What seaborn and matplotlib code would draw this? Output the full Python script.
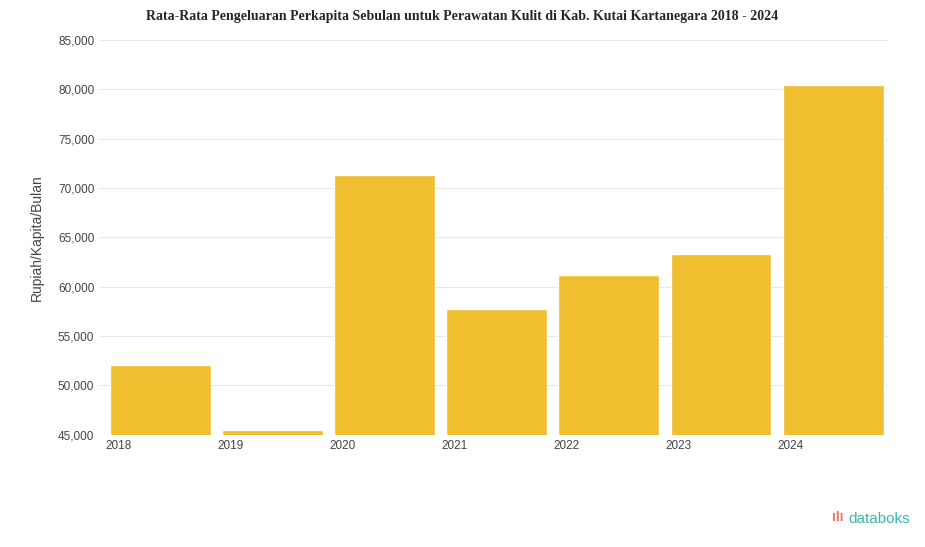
import pandas as pd
import seaborn as sns
import matplotlib.pyplot as plt
from matplotlib.ticker import FuncFormatter

# data
tahun = ['2018', '2019', '2020', '2021', '2022', '2023', '2024']
pengeluaran = [52100, 45500, 71300, 57750, 61200, 63300, 80400]
y_ticks = [45000, 50000, 55000, 60000, 65000, 70000, 75000, 80000, 85000]

df = pd.DataFrame({'Tahun': tahun, 'Pengeluaran': pengeluaran})

sns.set_style('white')
plt.rcParams['font.family'] = ['Liberation Sans', 'DejaVu Sans']

fig = plt.figure(figsize=(9.25, 5.47), dpi=100)
ax = fig.add_axes([0.108, 0.205, 0.852, 0.722])

sns.barplot(data=df, x='Tahun', y='Pengeluaran', color='#EFBF2F',
            saturation=1, width=0.9, ax=ax)

ax.set_ylim(45000, 85000)
ax.set_xlim(-0.54, 6.49)
ax.set_yticks(y_ticks)
ax.yaxis.set_major_formatter(FuncFormatter(lambda v, p: f'{int(v):,}'))
ax.grid(axis='y', color='#E6E6E6', lw=0.8)
ax.set_axisbelow(True)

ax.set_xticks([i - 0.375 for i in range(len(tahun))])
ax.set_xticklabels(tahun)
ax.tick_params(axis='both', labelsize=8.5, colors='#444444', length=0, pad=4)
ax.set_xlabel('')
ax.set_ylabel('Rupiah/Kapita/Bulan', fontsize=10, color='#444444', labelpad=10)
for s in ax.spines.values():
    s.set_visible(False)

fig.text(0.5, 0.982, 'Rata-Rata Pengeluaran Perkapita Sebulan untuk Perawatan Kulit di Kab. Kutai Kartanegara 2018 - 2024',
         ha='center', va='top', fontsize=10, fontweight='bold', family='Liberation Serif')

fig.text(0.984, 0.052, 'databoks', ha='right', va='center', fontsize=11, color='#3FB5AA')
fig.text(0.912, 0.054, 'ıIı', ha='right', va='center', fontsize=10, color='#F0755A', fontweight='bold')

fig.savefig('out.png', dpi=100)
